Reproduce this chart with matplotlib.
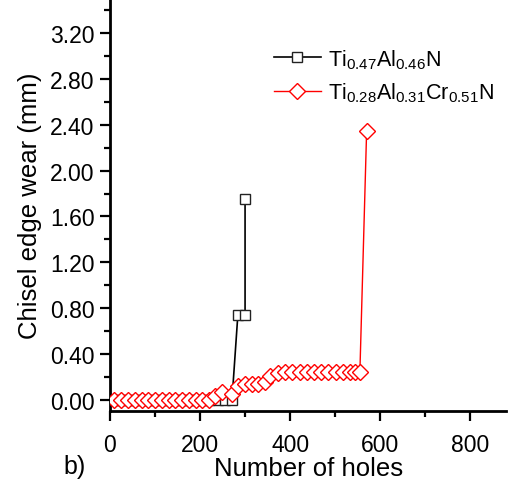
import matplotlib
matplotlib.use("Agg")
import matplotlib.pyplot as plt
from matplotlib.ticker import MultipleLocator, FormatStrFormatter

plt.rcParams['font.family'] = ['Liberation Sans', 'DejaVu Sans']
plt.rcParams['mathtext.fontset'] = 'custom'
plt.rcParams['mathtext.rm'] = 'Liberation Sans'
plt.rcParams['mathtext.default'] = 'regular'

# Ti0.47Al0.46N coating
tialn_holes = [10, 25, 40, 55, 70, 85, 100, 115, 130, 145, 160, 175, 190, 205, 220,
               240, 255, 271, 284, 300, 300]
tialn_wear = [0, 0, 0, 0, 0, 0, 0, 0, 0, 0, 0, 0, 0, 0, 0,
              0, 0, 0, 0.74, 0.74, 1.75]

# Ti0.28Al0.31Cr0.51N coating
tialcrn_holes = [10, 25, 40, 55, 70, 85, 100, 115, 130, 145, 160, 175, 190, 205, 220,
                 233, 249, 271, 284, 300, 316, 329, 344, 356, 373,
                 389, 405, 421, 437, 453, 469, 485, 501, 517, 533, 545, 555, 570]
tialcrn_wear = [0, 0, 0, 0, 0, 0, 0, 0, 0, 0, 0, 0, 0, 0, 0,
                0.03, 0.07, 0.05, 0.12, 0.14, 0.14, 0.14, 0.15, 0.21, 0.23,
                0.24, 0.24, 0.24, 0.24, 0.24, 0.24, 0.24, 0.24, 0.24, 0.24, 0.24, 0.24, 2.35]

labels = [r'Ti$_{0.47}$Al$_{0.46}$N', r'Ti$_{0.28}$Al$_{0.31}$Cr$_{0.51}$N']

fig = plt.figure(figsize=(5.08, 4.85), dpi=100)
ax = fig.add_axes([0.2165, 0.1505, 0.78, 0.8495])

ax.plot(tialn_holes, tialn_wear, color='black', lw=1.2, marker='s', ms=7,
        mfc='white', mec='#222222', mew=1.0, label=labels[0], zorder=2)
ax.plot(tialcrn_holes, tialcrn_wear, color='red', lw=1.0, marker='D', ms=8.5,
        mfc='white', mec='red', mew=1.0, label=labels[1], zorder=3)

ax.set_xlim(0, 880)
ax.set_ylim(-0.1, 3.5)
ax.xaxis.set_major_locator(MultipleLocator(200))
ax.xaxis.set_minor_locator(MultipleLocator(100))
ax.yaxis.set_major_locator(MultipleLocator(0.4))
ax.yaxis.set_minor_locator(MultipleLocator(0.2))
ax.yaxis.set_major_formatter(FormatStrFormatter('%.2f'))

for s in ['top', 'right']:
    ax.spines[s].set_visible(False)
for s in ['left', 'bottom']:
    ax.spines[s].set_linewidth(2.0)

ax.tick_params(which='major', direction='out', length=7, width=1.6, labelsize=16.5)
ax.tick_params(which='minor', direction='out', length=4, width=1.6)
ax.tick_params(axis='x', pad=9)
ax.tick_params(axis='y', pad=4)

ax.set_xlabel('Number of holes', fontsize=18.5, labelpad=0)
ax.set_ylabel('Chisel edge wear (mm)', fontsize=18.5, labelpad=6)
fig.text(0.124, 0.022, 'b)', fontsize=18)

ax.legend(loc='upper left', bbox_to_anchor=(0.382, 0.915), frameon=False,
          fontsize=15.5, handlelength=2.15, labelspacing=0.47, handletextpad=0.35,
          borderaxespad=0.2)

fig.savefig('out.png', dpi=100)
